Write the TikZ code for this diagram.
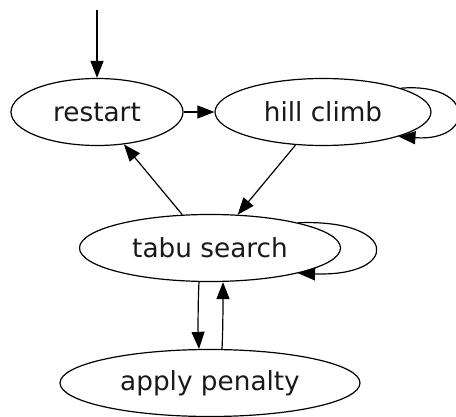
\documentclass[tikz,border=0pt]{standalone}
\usepackage{fontspec}
\setmainfont{DejaVu Sans}
\usetikzlibrary{shapes.geometric,arrows.meta}
\begin{document}
\begin{tikzpicture}[x=1pt,y=-1pt,
  state/.style={draw,ellipse,line width=1.2pt,inner sep=0pt,minimum height=67pt,font=\fontsize{26.3}{30}\selectfont,text=black!90},
  edge/.style={draw,line width=1.2pt,-{Triangle[length=17pt,width=13pt]}}]
\useasboundingbox (0,0) rectangle (456,417);
\node[state,minimum width=172pt] (rs) at (97,112) {restart};
\node[state,minimum width=216pt] (hc) at (323,112) {hill climb};
\node[state,minimum width=261pt] (ts) at (210,248) {tabu search};
\node[state,minimum width=300pt] (ap) at (210,383) {apply penalty};
\coordinate (start) at (97,10);
\path[edge] (start) -- (rs.north);
\path[edge] (rs.east) -- (hc.west);
\path[edge] (hc) -- (ts);
\path[edge] (ts) -- (rs);
\path[edge] (hc.17) .. controls (476,82) and (476,142) .. (hc.-18);
\path[edge] (ts.16) .. controls (400,219) and (400,277) .. (ts.-16);
\path[edge] ([xshift=-11pt]ts.south) .. controls (198,300) and (198,330) .. ([xshift=-11pt]ap.north);
\path[edge] ([xshift=12pt]ap.north) .. controls (223,330) and (223,300) .. ([xshift=13pt]ts.south);
\end{tikzpicture}
\end{document}
